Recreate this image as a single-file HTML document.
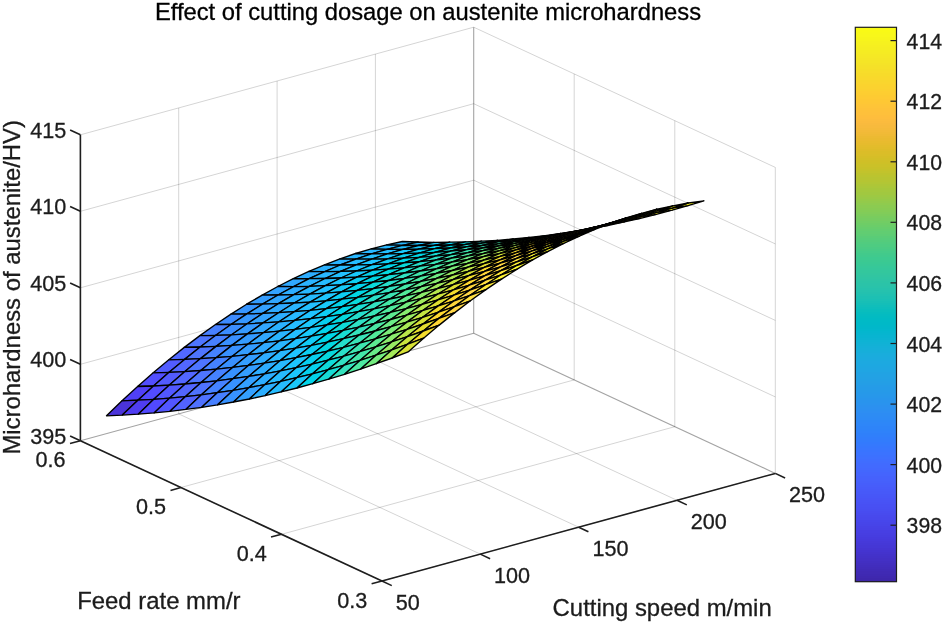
<!DOCTYPE html>
<html><head><meta charset="utf-8"><title>Effect of cutting dosage on austenite microhardness</title>
<style>html,body{margin:0;padding:0;background:#fff}svg{display:block}</style></head>
<body>
<svg width="943" height="624" viewBox="0 0 943 624" font-family="'Liberation Sans', Arial, Helvetica, sans-serif">
<rect width="943" height="624" fill="#fff"/>
<g stroke="#000" stroke-opacity="0.17" stroke-width="1">
<line x1="80.4" y1="440.8" x2="382" y2="581"/>
<line x1="80.4" y1="440.8" x2="80.4" y2="134.8"/>
<line x1="178.7" y1="413.9" x2="480.3" y2="554.1"/>
<line x1="178.7" y1="413.9" x2="178.7" y2="107.9"/>
<line x1="277.1" y1="387" x2="578.7" y2="527.2"/>
<line x1="277.1" y1="387" x2="277.1" y2="81"/>
<line x1="375.4" y1="360.1" x2="677" y2="500.3"/>
<line x1="375.4" y1="360.1" x2="375.4" y2="54.1"/>
<line x1="180.9" y1="487.5" x2="574.2" y2="379.9"/>
<line x1="574.2" y1="379.9" x2="574.2" y2="73.9"/>
<line x1="281.5" y1="534.3" x2="674.8" y2="426.7"/>
<line x1="674.8" y1="426.7" x2="674.8" y2="120.7"/>
<line x1="382" y1="581" x2="775.3" y2="473.4"/>
<line x1="775.3" y1="473.4" x2="775.3" y2="167.4"/>
<line x1="80.4" y1="364.3" x2="473.7" y2="256.7"/>
<line x1="473.7" y1="256.7" x2="775.3" y2="396.9"/>
<line x1="80.4" y1="287.8" x2="473.7" y2="180.2"/>
<line x1="473.7" y1="180.2" x2="775.3" y2="320.4"/>
<line x1="80.4" y1="211.3" x2="473.7" y2="103.7"/>
<line x1="473.7" y1="103.7" x2="775.3" y2="243.9"/>
<line x1="80.4" y1="134.8" x2="473.7" y2="27.2"/>
<line x1="473.7" y1="27.2" x2="775.3" y2="167.4"/>
</g>
<g stroke="#000" stroke-opacity="0.36" stroke-width="1.1">
<line x1="473.7" y1="333.2" x2="473.7" y2="27.2"/>
<line x1="80.4" y1="440.8" x2="473.7" y2="333.2"/>
<line x1="473.7" y1="333.2" x2="775.3" y2="473.4"/>
</g>
<g stroke="#000" stroke-width="1.35" stroke-linejoin="round">
<polygon points="386.7,244.8 402.3,241.5 418.2,242 402.6,245.3" fill="#29b7ff"/>
<polygon points="371.2,248.9 386.7,244.8 402.6,245.3 387,249.3" fill="#29b8ff"/>
<polygon points="355.6,253.5 371.2,248.9 387,249.3 371.5,253.9" fill="#29b7ff"/>
<polygon points="402.6,245.3 418.2,242 434.1,242.3 418.5,245.5" fill="#23c0ff"/>
<polygon points="340,258.8 355.6,253.5 371.5,253.9 355.9,259.1" fill="#29b7ff"/>
<polygon points="387,249.3 402.6,245.3 418.5,245.5 402.9,249.4" fill="#23c0ff"/>
<polygon points="324.5,264.8 340,258.8 355.9,259.1 340.3,265" fill="#2ab4ff"/>
<polygon points="371.5,253.9 387,249.3 402.9,249.4 387.4,253.9" fill="#23c0ff"/>
<polygon points="418.5,245.5 434.1,242.3 449.9,242.2 434.4,245.4" fill="#1bc8fb"/>
<polygon points="308.9,271.4 324.5,264.8 340.3,265 324.8,271.6" fill="#2bb1ff"/>
<polygon points="355.9,259.1 371.5,253.9 387.4,253.9 371.8,259.1" fill="#24bfff"/>
<polygon points="293.3,278.6 308.9,271.4 324.8,271.6 309.2,278.7" fill="#2dadff"/>
<polygon points="402.9,249.4 418.5,245.5 434.4,245.4 418.8,249.2" fill="#1bc8fb"/>
<polygon points="340.3,265 355.9,259.1 371.8,259.1 356.2,264.9" fill="#25bdff"/>
<polygon points="277.8,286.5 293.3,278.6 309.2,278.7 293.6,286.6" fill="#30a9ff"/>
<polygon points="387.4,253.9 402.9,249.4 418.8,249.2 403.2,253.7" fill="#1bc8fb"/>
<polygon points="434.4,245.4 449.9,242.2 465.8,241.8 450.2,245" fill="#0acff0"/>
<polygon points="262.2,295.1 277.8,286.5 293.6,286.6 278.1,295" fill="#33a3ff"/>
<polygon points="324.8,271.6 340.3,265 356.2,264.9 340.6,271.4" fill="#27bbff"/>
<polygon points="246.6,304.2 262.2,295.1 278.1,295 262.5,304.1" fill="#349dff"/>
<polygon points="371.8,259.1 387.4,253.9 403.2,253.7 387.7,258.8" fill="#1cc7fc"/>
<polygon points="309.2,278.7 324.8,271.6 340.6,271.4 325.1,278.5" fill="#29b7ff"/>
<polygon points="418.8,249.2 434.4,245.4 450.2,245 434.7,248.7" fill="#0acff0"/>
<polygon points="231,314.1 246.6,304.2 262.5,304.1 246.9,313.9" fill="#3695ff"/>
<polygon points="356.2,264.9 371.8,259.1 387.7,258.8 372.1,264.6" fill="#1ec6fe"/>
<polygon points="293.6,286.6 309.2,278.7 325.1,278.5 309.5,286.3" fill="#2bb3ff"/>
<polygon points="215.5,324.5 231,314.1 246.9,313.9 231.3,324.3" fill="#3d8bff"/>
<polygon points="403.2,253.7 418.8,249.2 434.7,248.7 419.1,253.1" fill="#0acff0"/>
<polygon points="199.9,335.6 215.5,324.5 231.3,324.3 215.8,335.3" fill="#4780ff"/>
<polygon points="450.2,245 465.8,241.8 481.7,241.2 466.1,244.3" fill="#01d5e3"/>
<polygon points="278.1,295 293.6,286.6 309.5,286.3 293.9,294.7" fill="#2dadff"/>
<polygon points="340.6,271.4 356.2,264.9 372.1,264.6 356.5,271" fill="#20c4ff"/>
<polygon points="184.3,347.4 199.9,335.6 215.8,335.3 200.2,347" fill="#4e75ff"/>
<polygon points="262.5,304.1 278.1,295 293.9,294.7 278.4,303.7" fill="#31a7ff"/>
<polygon points="387.7,258.8 403.2,253.7 419.1,253.1 403.5,258.2" fill="#0acff0"/>
<polygon points="168.8,359.8 184.3,347.4 200.2,347 184.6,359.4" fill="#5169ff"/>
<polygon points="325.1,278.5 340.6,271.4 356.5,271 340.9,278" fill="#23c0ff"/>
<polygon points="434.7,248.7 450.2,245 466.1,244.3 450.5,248" fill="#01d6e1"/>
<polygon points="153.2,372.8 168.8,359.8 184.6,359.4 169.1,372.3" fill="#525cff"/>
<polygon points="246.9,313.9 262.5,304.1 278.4,303.7 262.8,313.4" fill="#34a0ff"/>
<polygon points="137.6,386.5 153.2,372.8 169.1,372.3 153.5,386" fill="#524eff"/>
<polygon points="372.1,264.6 387.7,258.8 403.5,258.2 388,263.9" fill="#10cdf3"/>
<polygon points="309.5,286.3 325.1,278.5 340.9,278 325.4,285.7" fill="#26bcff"/>
<polygon points="122,400.8 137.6,386.5 153.5,386 137.9,400.2" fill="#5040f7"/>
<polygon points="231.3,324.3 246.9,313.9 262.8,313.4 247.2,323.8" fill="#3597ff"/>
<polygon points="106.5,415.8 122,400.8 137.9,400.2 122.3,415.1" fill="#4b34d9"/>
<polygon points="419.1,253.1 434.7,248.7 450.5,248 435,252.3" fill="#01d6e1"/>
<polygon points="215.8,335.3 231.3,324.3 247.2,323.8 231.6,334.8" fill="#3b8dff"/>
<polygon points="293.9,294.7 309.5,286.3 325.4,285.7 309.8,294.1" fill="#29b8ff"/>
<polygon points="466.1,244.3 481.7,241.2 497.6,240.3 482,243.2" fill="#17dbd4"/>
<polygon points="356.5,271 372.1,264.6 388,263.9 372.4,270.2" fill="#15cbf7"/>
<polygon points="200.2,347 215.8,335.3 231.6,334.8 216.1,346.4" fill="#4780ff"/>
<polygon points="278.4,303.7 293.9,294.7 309.8,294.1 294.2,303" fill="#2bb1ff"/>
<polygon points="403.5,258.2 419.1,253.1 435,252.3 419.4,257.3" fill="#01d5e3"/>
<polygon points="184.6,359.4 200.2,347 216.1,346.4 200.5,358.6" fill="#4e75ff"/>
<polygon points="340.9,278 356.5,271 372.4,270.2 356.8,277.2" fill="#19c9fa"/>
<polygon points="450.5,248 466.1,244.3 482,243.2 466.4,246.9" fill="#1adcd2"/>
<polygon points="169.1,372.3 184.6,359.4 200.5,358.6 184.9,371.6" fill="#5267ff"/>
<polygon points="262.8,313.4 278.4,303.7 294.2,303 278.7,312.7" fill="#2faaff"/>
<polygon points="153.5,386 169.1,372.3 184.9,371.6 169.4,385.1" fill="#535bff"/>
<polygon points="388,263.9 403.5,258.2 419.4,257.3 403.8,262.9" fill="#00d5e5"/>
<polygon points="325.4,285.7 340.9,278 356.8,277.2 341.2,284.9" fill="#1ec6fe"/>
<polygon points="137.9,400.2 153.5,386 169.4,385.1 153.8,399.3" fill="#524cff"/>
<polygon points="247.2,323.8 262.8,313.4 278.7,312.7 263.1,322.9" fill="#33a3ff"/>
<polygon points="122.3,415.1 137.9,400.2 153.8,399.3 138.2,414.2" fill="#4f3df2"/>
<polygon points="435,252.3 450.5,248 466.4,246.9 450.8,251.2" fill="#1adcd2"/>
<polygon points="231.6,334.8 247.2,323.8 263.1,322.9 247.5,333.9" fill="#359aff"/>
<polygon points="309.8,294.1 325.4,285.7 341.2,284.9 325.7,293.1" fill="#22c1ff"/>
<polygon points="482,243.2 497.6,240.3 513.4,239 497.9,241.9" fill="#2fe0c4"/>
<polygon points="372.4,270.2 388,263.9 403.8,262.9 388.3,269.2" fill="#01d3e9"/>
<polygon points="216.1,346.4 231.6,334.8 247.5,333.9 231.9,345.4" fill="#398fff"/>
<polygon points="294.2,303 309.8,294.1 325.7,293.1 310.1,302.1" fill="#26bcff"/>
<polygon points="419.4,257.3 435,252.3 450.8,251.2 435.3,256.1" fill="#17dbd4"/>
<polygon points="200.5,358.6 216.1,346.4 231.9,345.4 216.4,357.6" fill="#4582ff"/>
<polygon points="356.8,277.2 372.4,270.2 388.3,269.2 372.7,276.1" fill="#05d1ec"/>
<polygon points="466.4,246.9 482,243.2 497.9,241.9 482.3,245.5" fill="#31e1c2"/>
<polygon points="184.9,371.6 200.5,358.6 216.4,357.6 200.8,370.5" fill="#4e75ff"/>
<polygon points="278.7,312.7 294.2,303 310.1,302.1 294.5,311.6" fill="#2ab5ff"/>
<polygon points="169.4,385.1 184.9,371.6 200.8,370.5 185.2,384" fill="#5267ff"/>
<polygon points="403.8,262.9 419.4,257.3 435.3,256.1 419.7,261.7" fill="#13dad6"/>
<polygon points="341.2,284.9 356.8,277.2 372.7,276.1 357.1,283.7" fill="#0dcef2"/>
<polygon points="153.8,399.3 169.4,385.1 185.2,384 169.7,398.1" fill="#5258ff"/>
<polygon points="263.1,322.9 278.7,312.7 294.5,311.6 279,321.8" fill="#2caeff"/>
<polygon points="138.2,414.2 153.8,399.3 169.7,398.1 154.1,412.9" fill="#5149ff"/>
<polygon points="450.8,251.2 466.4,246.9 482.3,245.5 466.7,249.7" fill="#31e1c2"/>
<polygon points="247.5,333.9 263.1,322.9 279,321.8 263.4,332.7" fill="#32a6ff"/>
<polygon points="325.7,293.1 341.2,284.9 357.1,283.7 341.5,291.9" fill="#17caf8"/>
<polygon points="497.9,241.9 513.4,239 529.3,237.5 513.7,240.3" fill="#3ce5b2"/>
<polygon points="388.3,269.2 403.8,262.9 419.7,261.7 404.1,267.9" fill="#0bd9da"/>
<polygon points="231.9,345.4 247.5,333.9 263.4,332.7 247.8,344.2" fill="#349bff"/>
<polygon points="310.1,302.1 325.7,293.1 341.5,291.9 326,300.8" fill="#1ec6fe"/>
<polygon points="435.3,256.1 450.8,251.2 466.7,249.7 451.1,254.6" fill="#2fe0c4"/>
<polygon points="216.4,357.6 231.9,345.4 247.8,344.2 232.3,356.3" fill="#3890ff"/>
<polygon points="372.7,276.1 388.3,269.2 404.1,267.9 388.6,274.7" fill="#05d8de"/>
<polygon points="200.8,370.5 216.4,357.6 232.3,356.3 216.7,369.1" fill="#4582ff"/>
<polygon points="482.3,245.5 497.9,241.9 513.7,240.3 498.2,243.8" fill="#3ee6af"/>
<polygon points="294.5,311.6 310.1,302.1 326,300.8 310.4,310.3" fill="#23c0ff"/>
<polygon points="185.2,384 200.8,370.5 216.7,369.1 201.1,382.5" fill="#4e75ff"/>
<polygon points="419.7,261.7 435.3,256.1 451.1,254.6 435.6,260.1" fill="#2ddfc6"/>
<polygon points="357.1,283.7 372.7,276.1 388.6,274.7 373,282.2" fill="#01d5e3"/>
<polygon points="169.7,398.1 185.2,384 201.1,382.5 185.5,396.6" fill="#5266ff"/>
<polygon points="279,321.8 294.5,311.6 310.4,310.3 294.8,320.4" fill="#28b9ff"/>
<polygon points="154.1,412.9 169.7,398.1 185.5,396.6 170,411.3" fill="#5256ff"/>
<polygon points="466.7,249.7 482.3,245.5 498.2,243.8 482.6,248" fill="#3ee6af"/>
<polygon points="263.4,332.7 279,321.8 294.8,320.4 279.3,331.2" fill="#2bb1ff"/>
<polygon points="341.5,291.9 357.1,283.7 373,282.2 357.4,290.4" fill="#03d2eb"/>
<polygon points="513.7,240.3 529.3,237.5 545.2,235.6 529.6,238.4" fill="#52ea9a"/>
<polygon points="404.1,267.9 419.7,261.7 435.6,260.1 420,266.2" fill="#28deca"/>
<polygon points="247.8,344.2 263.4,332.7 279.3,331.2 263.7,342.6" fill="#31a7ff"/>
<polygon points="326,300.8 341.5,291.9 357.4,290.4 341.9,299.2" fill="#0dcef2"/>
<polygon points="451.1,254.6 466.7,249.7 482.6,248 467,252.8" fill="#3ee6af"/>
<polygon points="232.3,356.3 247.8,344.2 263.7,342.6 248.1,354.7" fill="#349dff"/>
<polygon points="388.6,274.7 404.1,267.9 420,266.2 404.4,273" fill="#21ddce"/>
<polygon points="216.7,369.1 232.3,356.3 248.1,354.7 232.6,367.4" fill="#3890ff"/>
<polygon points="498.2,243.8 513.7,240.3 529.6,238.4 514,241.9" fill="#52ea9a"/>
<polygon points="310.4,310.3 326,300.8 341.9,299.2 326.3,308.6" fill="#19c9fa"/>
<polygon points="201.1,382.5 216.7,369.1 232.6,367.4 217,380.8" fill="#4582ff"/>
<polygon points="435.6,260.1 451.1,254.6 467,252.8 451.5,258.2" fill="#3be4b4"/>
<polygon points="373,282.2 388.6,274.7 404.4,273 388.9,280.5" fill="#17dbd4"/>
<polygon points="185.5,396.6 201.1,382.5 217,380.8 201.4,394.8" fill="#4f73ff"/>
<polygon points="294.8,320.4 310.4,310.3 326.3,308.6 310.7,318.7" fill="#20c4ff"/>
<polygon points="170,411.3 185.5,396.6 201.4,394.8 185.8,409.4" fill="#5263ff"/>
<polygon points="482.6,248 498.2,243.8 514,241.9 498.5,246" fill="#56ea98"/>
<polygon points="279.3,331.2 294.8,320.4 310.7,318.7 295.1,329.4" fill="#26bcff"/>
<polygon points="357.4,290.4 373,282.2 388.9,280.5 373.3,288.6" fill="#0bd9da"/>
<polygon points="420,266.2 435.6,260.1 451.5,258.2 435.9,264.3" fill="#39e4b7"/>
<polygon points="529.6,238.4 545.2,235.6 561.1,233.5 545.5,236.2" fill="#6feb83"/>
<polygon points="263.7,342.6 279.3,331.2 295.1,329.4 279.6,340.8" fill="#2ab4ff"/>
<polygon points="341.9,299.2 357.4,290.4 373.3,288.6 357.7,297.3" fill="#01d5e3"/>
<polygon points="467,252.8 482.6,248 498.5,246 482.9,250.7" fill="#52ea9a"/>
<polygon points="248.1,354.7 263.7,342.6 279.6,340.8 264,352.8" fill="#30a9ff"/>
<polygon points="404.4,273 420,266.2 435.9,264.3 420.3,271" fill="#36e2bb"/>
<polygon points="232.6,367.4 248.1,354.7 264,352.8 248.4,365.4" fill="#349eff"/>
<polygon points="514,241.9 529.6,238.4 545.5,236.2 529.9,239.6" fill="#73eb7f"/>
<polygon points="326.3,308.6 341.9,299.2 357.7,297.3 342.2,306.7" fill="#03d2eb"/>
<polygon points="217,380.8 232.6,367.4 248.4,365.4 232.9,378.7" fill="#3792ff"/>
<polygon points="451.5,258.2 467,252.8 482.9,250.7 467.3,256.1" fill="#4fe99d"/>
<polygon points="388.9,280.5 404.4,273 420.3,271 404.7,278.4" fill="#31e1c2"/>
<polygon points="201.4,394.8 217,380.8 232.9,378.7 217.3,392.7" fill="#4582ff"/>
<polygon points="310.7,318.7 326.3,308.6 342.2,306.7 326.6,316.7" fill="#10cdf3"/>
<polygon points="185.8,409.4 201.4,394.8 217.3,392.7 201.7,407.3" fill="#4f71ff"/>
<polygon points="498.5,246 514,241.9 529.9,239.6 514.3,243.6" fill="#73eb7f"/>
<polygon points="295.1,329.4 310.7,318.7 326.6,316.7 311,327.3" fill="#1cc7fc"/>
<polygon points="373.3,288.6 388.9,280.5 404.7,278.4 389.2,286.4" fill="#28deca"/>
<polygon points="435.9,264.3 451.5,258.2 467.3,256.1 451.8,262.1" fill="#4ce9a0"/>
<polygon points="545.5,236.2 561.1,233.5 576.9,231 561.4,233.7" fill="#94ea66"/>
<polygon points="279.6,340.8 295.1,329.4 311,327.3 295.4,338.6" fill="#24bfff"/>
<polygon points="357.7,297.3 373.3,288.6 389.2,286.4 373.6,295.1" fill="#1adcd2"/>
<polygon points="482.9,250.7 498.5,246 514.3,243.6 498.8,248.3" fill="#73eb7f"/>
<polygon points="264,352.8 279.6,340.8 295.4,338.6 279.9,350.6" fill="#2ab5ff"/>
<polygon points="420.3,271 435.9,264.3 451.8,262.1 436.2,268.8" fill="#44e7a8"/>
<polygon points="248.4,365.4 264,352.8 279.9,350.6 264.3,363.2" fill="#2eacff"/>
<polygon points="529.9,239.6 545.5,236.2 561.4,233.7 545.8,237" fill="#98ea63"/>
<polygon points="342.2,306.7 357.7,297.3 373.6,295.1 358,304.4" fill="#0bd9da"/>
<polygon points="232.9,378.7 248.4,365.4 264.3,363.2 248.7,376.4" fill="#349eff"/>
<polygon points="467.3,256.1 482.9,250.7 498.8,248.3 483.2,253.6" fill="#6feb83"/>
<polygon points="404.7,278.4 420.3,271 436.2,268.8 420.6,276.1" fill="#40e6ad"/>
<polygon points="217.3,392.7 232.9,378.7 248.7,376.4 233.2,390.3" fill="#3792ff"/>
<polygon points="326.6,316.7 342.2,306.7 358,304.4 342.5,314.4" fill="#00d5e5"/>
<polygon points="201.7,407.3 217.3,392.7 233.2,390.3 217.6,404.8" fill="#4780ff"/>
<polygon points="514.3,243.6 529.9,239.6 545.8,237 530.2,241" fill="#9cea60"/>
<polygon points="311,327.3 326.6,316.7 342.5,314.4 326.9,324.9" fill="#07d0ee"/>
<polygon points="389.2,286.4 404.7,278.4 420.6,276.1 405,284" fill="#39e4b7"/>
<polygon points="451.8,262.1 467.3,256.1 483.2,253.6 467.6,259.6" fill="#6ceb86"/>
<polygon points="561.4,233.7 576.9,231 592.8,228.3 577.2,230.9" fill="#bde647"/>
<polygon points="295.4,338.6 311,327.3 326.9,324.9 311.3,336.2" fill="#19c9fa"/>
<polygon points="373.6,295.1 389.2,286.4 405,284 389.5,292.6" fill="#33e1bf"/>
<polygon points="498.8,248.3 514.3,243.6 530.2,241 514.6,245.6" fill="#98ea63"/>
<polygon points="279.9,350.6 295.4,338.6 311.3,336.2 295.7,348.1" fill="#22c1ff"/>
<polygon points="436.2,268.8 451.8,262.1 467.6,259.6 452.1,266.2" fill="#61eb8f"/>
<polygon points="264.3,363.2 279.9,350.6 295.7,348.1 280.2,360.6" fill="#29b8ff"/>
<polygon points="545.8,237 561.4,233.7 577.2,230.9 561.7,234.2" fill="#c1e544"/>
<polygon points="358,304.4 373.6,295.1 389.5,292.6 373.9,301.9" fill="#2adfc8"/>
<polygon points="248.7,376.4 264.3,363.2 280.2,360.6 264.6,373.8" fill="#2dadff"/>
<polygon points="483.2,253.6 498.8,248.3 514.6,245.6 499.1,250.8" fill="#94ea66"/>
<polygon points="420.6,276.1 436.2,268.8 452.1,266.2 436.5,273.4" fill="#59ea95"/>
<polygon points="233.2,390.3 248.7,376.4 264.6,373.8 249,387.6" fill="#34a0ff"/>
<polygon points="342.5,314.4 358,304.4 373.9,301.9 358.3,311.7" fill="#1adcd2"/>
<polygon points="217.6,404.8 233.2,390.3 249,387.6 233.5,402" fill="#3792ff"/>
<polygon points="530.2,241 545.8,237 561.7,234.2 546.1,238.1" fill="#c1e544"/>
<polygon points="326.9,324.9 342.5,314.4 358.3,311.7 342.8,322.3" fill="#05d8de"/>
<polygon points="405,284 420.6,276.1 436.5,273.4 420.9,281.3" fill="#4ce9a0"/>
<polygon points="467.6,259.6 483.2,253.6 499.1,250.8 483.5,256.7" fill="#90eb69"/>
<polygon points="577.2,230.9 592.8,228.3 608.7,225.3 593.1,227.8" fill="#dfe032"/>
<polygon points="311.3,336.2 326.9,324.9 342.8,322.3 327.2,333.4" fill="#03d2eb"/>
<polygon points="389.5,292.6 405,284 420.9,281.3 405.3,289.8" fill="#44e7a8"/>
<polygon points="295.7,348.1 311.3,336.2 327.2,333.4 311.6,345.3" fill="#12ccf5"/>
<polygon points="514.6,245.6 530.2,241 546.1,238.1 530.5,242.6" fill="#c1e544"/>
<polygon points="452.1,266.2 467.6,259.6 483.5,256.7 467.9,263.3" fill="#87eb6f"/>
<polygon points="280.2,360.6 295.7,348.1 311.6,345.3 296.1,357.7" fill="#20c4ff"/>
<polygon points="373.9,301.9 389.5,292.6 405.3,289.8 389.8,299" fill="#3be4b4"/>
<polygon points="561.7,234.2 577.2,230.9 593.1,227.8 577.5,231" fill="#e2df31"/>
<polygon points="264.6,373.8 280.2,360.6 296.1,357.7 280.5,370.8" fill="#28b9ff"/>
<polygon points="436.5,273.4 452.1,266.2 467.9,263.3 452.4,270.5" fill="#7beb79"/>
<polygon points="499.1,250.8 514.6,245.6 530.5,242.6 514.9,247.8" fill="#bde647"/>
<polygon points="249,387.6 264.6,373.8 280.5,370.8 264.9,384.6" fill="#2dadff"/>
<polygon points="358.3,311.7 373.9,301.9 389.8,299 374.2,308.8" fill="#33e1bf"/>
<polygon points="233.5,402 249,387.6 264.9,384.6 249.3,399" fill="#34a0ff"/>
<polygon points="546.1,238.1 561.7,234.2 577.5,231 562,234.8" fill="#e6de2f"/>
<polygon points="342.8,322.3 358.3,311.7 374.2,308.8 358.6,319.3" fill="#25ddcc"/>
<polygon points="420.9,281.3 436.5,273.4 452.4,270.5 436.8,278.3" fill="#6feb83"/>
<polygon points="483.5,256.7 499.1,250.8 514.9,247.8 499.4,253.6" fill="#b9e64a"/>
<polygon points="593.1,227.8 608.7,225.3 624.5,221.9 609,224.4" fill="#ffd92f"/>
<polygon points="327.2,333.4 342.8,322.3 358.6,319.3 343.1,330.4" fill="#0fdad8"/>
<polygon points="405.3,289.8 420.9,281.3 436.8,278.3 421.2,286.7" fill="#61eb8f"/>
<polygon points="311.6,345.3 327.2,333.4 343.1,330.4 327.5,342.2" fill="#00d5e5"/>
<polygon points="530.5,242.6 546.1,238.1 562,234.8 546.4,239.3" fill="#e6de2f"/>
<polygon points="467.9,263.3 483.5,256.7 499.4,253.6 483.8,260.1" fill="#b1e850"/>
<polygon points="296.1,357.7 311.6,345.3 327.5,342.2 311.9,354.5" fill="#0dcef2"/>
<polygon points="389.8,299 405.3,289.8 421.2,286.7 405.7,295.9" fill="#52ea9a"/>
<polygon points="577.5,231 593.1,227.8 609,224.4 593.4,227.5" fill="#ffd830"/>
<polygon points="280.5,370.8 296.1,357.7 311.9,354.5 296.4,367.6" fill="#1ec6fe"/>
<polygon points="452.4,270.5 467.9,263.3 483.8,260.1 468.2,267.2" fill="#a4e959"/>
<polygon points="514.9,247.8 530.5,242.6 546.4,239.3 530.8,244.4" fill="#e2df31"/>
<polygon points="264.9,384.6 280.5,370.8 296.4,367.6 280.8,381.3" fill="#27bbff"/>
<polygon points="374.2,308.8 389.8,299 405.7,295.9 390.1,305.6" fill="#44e7a8"/>
<polygon points="249.3,399 264.9,384.6 280.8,381.3 265.2,395.6" fill="#2caeff"/>
<polygon points="562,234.8 577.5,231 593.4,227.5 577.8,231.3" fill="#ffd832"/>
<polygon points="358.6,319.3 374.2,308.8 390.1,305.6 374.5,316" fill="#39e4b7"/>
<polygon points="436.8,278.3 452.4,270.5 468.2,267.2 452.7,275" fill="#98ea63"/>
<polygon points="499.4,253.6 514.9,247.8 530.8,244.4 515.3,250.2" fill="#dbe034"/>
<polygon points="609,224.4 624.5,221.9 640.4,218.3 624.9,220.7" fill="#ffd644"/>
<polygon points="343.1,330.4 358.6,319.3 374.5,316 358.9,327.1" fill="#2fe0c4"/>
<polygon points="421.2,286.7 436.8,278.3 452.7,275 437.1,283.4" fill="#87eb6f"/>
<polygon points="327.5,342.2 343.1,330.4 358.9,327.1 343.4,338.7" fill="#1adcd2"/>
<polygon points="546.4,239.3 562,234.8 577.8,231.3 562.3,235.7" fill="#ffd832"/>
<polygon points="483.8,260.1 499.4,253.6 515.3,250.2 499.7,256.6" fill="#d4e238"/>
<polygon points="311.9,354.5 327.5,342.2 343.4,338.7 327.8,351.1" fill="#03d7e0"/>
<polygon points="405.7,295.9 421.2,286.7 437.1,283.4 421.5,292.4" fill="#77ec7c"/>
<polygon points="593.4,227.5 609,224.4 624.9,220.7 609.3,223.8" fill="#ffd646"/>
<polygon points="296.4,367.6 311.9,354.5 327.8,351.1 312.2,364.1" fill="#07d0ee"/>
<polygon points="468.2,267.2 483.8,260.1 499.7,256.6 484.1,263.7" fill="#cce33d"/>
<polygon points="530.8,244.4 546.4,239.3 562.3,235.7 546.7,240.8" fill="#ffd830"/>
<polygon points="280.8,381.3 296.4,367.6 312.2,364.1 296.7,377.7" fill="#1cc7fc"/>
<polygon points="390.1,305.6 405.7,295.9 421.5,292.4 406,302.1" fill="#64eb8c"/>
<polygon points="265.2,395.6 280.8,381.3 296.7,377.7 281.1,391.9" fill="#26bcff"/>
<polygon points="577.8,231.3 593.4,227.5 609.3,223.8 593.7,227.5" fill="#ffd647"/>
<polygon points="374.5,316 390.1,305.6 406,302.1 390.4,312.4" fill="#4fe99d"/>
<polygon points="452.7,275 468.2,267.2 484.1,263.7 468.5,271.3" fill="#c1e544"/>
<polygon points="515.3,250.2 530.8,244.4 546.7,240.8 531.1,246.5" fill="#ffd92f"/>
<polygon points="624.9,220.7 640.4,218.3 656.3,214.4 640.7,216.7" fill="#ffe33f"/>
<polygon points="358.9,327.1 374.5,316 390.4,312.4 374.8,323.4" fill="#40e6ad"/>
<polygon points="437.1,283.4 452.7,275 468.5,271.3 453,279.7" fill="#b1e850"/>
<polygon points="343.4,338.7 358.9,327.1 374.8,323.4 359.2,335" fill="#35e2bd"/>
<polygon points="562.3,235.7 577.8,231.3 593.7,227.5 578.1,231.8" fill="#ffd647"/>
<polygon points="499.7,256.6 515.3,250.2 531.1,246.5 515.6,252.8" fill="#f9da2e"/>
<polygon points="327.8,351.1 343.4,338.7 359.2,335 343.7,347.3" fill="#25ddcc"/>
<polygon points="421.5,292.4 437.1,283.4 453,279.7 437.4,288.7" fill="#a0e95d"/>
<polygon points="609.3,223.8 624.9,220.7 640.7,216.7 625.2,219.7" fill="#ffe53d"/>
<polygon points="312.2,364.1 327.8,351.1 343.7,347.3 328.1,360.2" fill="#07d8dc"/>
<polygon points="484.1,263.7 499.7,256.6 515.6,252.8 500,259.8" fill="#f0dc2d"/>
<polygon points="546.7,240.8 562.3,235.7 578.1,231.8 562.6,236.8" fill="#ffd646"/>
<polygon points="296.7,377.7 312.2,364.1 328.1,360.2 312.5,373.8" fill="#05d1ec"/>
<polygon points="406,302.1 421.5,292.4 437.4,288.7 421.8,298.3" fill="#8beb6c"/>
<polygon points="281.1,391.9 296.7,377.7 312.5,373.8 297,388" fill="#1bc8fb"/>
<polygon points="390.4,312.4 406,302.1 421.8,298.3 406.3,308.6" fill="#73eb7f"/>
<polygon points="593.7,227.5 609.3,223.8 625.2,219.7 609.6,223.4" fill="#ffe53d"/>
<polygon points="468.5,271.3 484.1,263.7 500,259.8 484.4,267.4" fill="#e6de2f"/>
<polygon points="531.1,246.5 546.7,240.8 562.6,236.8 547,242.5" fill="#ffd644"/>
<polygon points="640.7,216.7 656.3,214.4 672.2,210.2 656.6,212.4" fill="#fff534"/>
<polygon points="374.8,323.4 390.4,312.4 406.3,308.6 390.7,319.5" fill="#5dea92"/>
<polygon points="453,279.7 468.5,271.3 484.4,267.4 468.8,275.7" fill="#d7e136"/>
<polygon points="359.2,335 374.8,323.4 390.7,319.5 375.1,331" fill="#49e8a3"/>
<polygon points="578.1,231.8 593.7,227.5 609.6,223.4 594,227.6" fill="#ffe53d"/>
<polygon points="515.6,252.8 531.1,246.5 547,242.5 531.4,248.7" fill="#ffd63f"/>
<polygon points="343.7,347.3 359.2,335 375.1,331 359.5,343.2" fill="#39e4b7"/>
<polygon points="437.4,288.7 453,279.7 468.8,275.7 453.3,284.6" fill="#c8e43f"/>
<polygon points="625.2,219.7 640.7,216.7 656.6,212.4 641,215.4" fill="#fff833"/>
<polygon points="328.1,360.2 343.7,347.3 359.5,343.2 344,356.1" fill="#2adfc8"/>
<polygon points="500,259.8 515.6,252.8 531.4,248.7 515.9,255.7" fill="#ffd63a"/>
<polygon points="562.6,236.8 578.1,231.8 594,227.6 578.4,232.6" fill="#ffe53d"/>
<polygon points="312.5,373.8 328.1,360.2 344,356.1 328.4,369.6" fill="#0fdad8"/>
<polygon points="421.8,298.3 437.4,288.7 453.3,284.6 437.7,294.2" fill="#b5e74d"/>
<polygon points="297,388 312.5,373.8 328.4,369.6 312.8,383.7" fill="#01d3e9"/>
<polygon points="406.3,308.6 421.8,298.3 437.7,294.2 422.1,304.4" fill="#a0e95d"/>
<polygon points="609.6,223.4 625.2,219.7 641,215.4 625.5,218.9" fill="#fff833"/>
<polygon points="484.4,267.4 500,259.8 515.9,255.7 500.3,263.2" fill="#ffd733"/>
<polygon points="547,242.5 562.6,236.8 578.4,232.6 562.9,238.1" fill="#ffe33f"/>
<polygon points="656.6,212.4 672.2,210.2 688,205.6 672.5,207.8" fill="#ffff2b"/>
<polygon points="390.7,319.5 406.3,308.6 422.1,304.4 406.6,315.2" fill="#87eb6f"/>
<polygon points="468.8,275.7 484.4,267.4 500.3,263.2 484.7,271.4" fill="#fcd92f"/>
<polygon points="375.1,331 390.7,319.5 406.6,315.2 391,326.7" fill="#6ceb86"/>
<polygon points="594,227.6 609.6,223.4 625.5,218.9 609.9,223.2" fill="#fff833"/>
<polygon points="531.4,248.7 547,242.5 562.9,238.1 547.3,244.4" fill="#ffe041"/>
<polygon points="359.5,343.2 375.1,331 391,326.7 375.4,338.9" fill="#52ea9a"/>
<polygon points="453.3,284.6 468.8,275.7 484.7,271.4 469.1,280.3" fill="#f0dc2d"/>
<polygon points="641,215.4 656.6,212.4 672.5,207.8 656.9,210.7" fill="#ffff2a"/>
<polygon points="344,356.1 359.5,343.2 375.4,338.9 359.8,351.7" fill="#3ee6af"/>
<polygon points="515.9,255.7 531.4,248.7 547.3,244.4 531.7,251.2" fill="#ffdb45"/>
<polygon points="578.4,232.6 594,227.6 609.9,223.2 594.3,228" fill="#fff833"/>
<polygon points="328.4,369.6 344,356.1 359.8,351.7 344.3,365.1" fill="#31e1c2"/>
<polygon points="437.7,294.2 453.3,284.6 469.1,280.3 453.6,289.8" fill="#dfe032"/>
<polygon points="312.8,383.7 328.4,369.6 344.3,365.1 328.7,379.2" fill="#17dbd4"/>
<polygon points="422.1,304.4 437.7,294.2 453.6,289.8 438,299.9" fill="#cce33d"/>
<polygon points="625.5,218.9 641,215.4 656.9,210.7 641.3,214.2" fill="#ffff2a"/>
<polygon points="500.3,263.2 515.9,255.7 531.7,251.2 516.2,258.7" fill="#ffd847"/>
<polygon points="562.9,238.1 578.4,232.6 594.3,228 578.7,233.5" fill="#fff634"/>
<polygon points="672.5,207.8 688,205.6 703.9,200.8 688.3,203" fill="#ffff1c"/>
<polygon points="406.6,315.2 422.1,304.4 438,299.9 422.4,310.7" fill="#b5e74d"/>
<polygon points="484.7,271.4 500.3,263.2 516.2,258.7 500.6,266.9" fill="#ffd644"/>
<polygon points="391,326.7 406.6,315.2 422.4,310.7 406.9,322.1" fill="#98ea63"/>
<polygon points="609.9,223.2 625.5,218.9 641.3,214.2 625.8,218.4" fill="#ffff2a"/>
<polygon points="547.3,244.4 562.9,238.1 578.7,233.5 563.2,239.7" fill="#fff335"/>
<polygon points="375.4,338.9 391,326.7 406.9,322.1 391.3,334.2" fill="#7beb79"/>
<polygon points="469.1,280.3 484.7,271.4 500.6,266.9 485,275.6" fill="#ffd63a"/>
<polygon points="656.9,210.7 672.5,207.8 688.3,203 672.8,205.8" fill="#ffff1a"/>
<polygon points="359.8,351.7 375.4,338.9 391.3,334.2 375.7,346.9" fill="#5dea92"/>
<polygon points="531.7,251.2 547.3,244.4 563.2,239.7 547.6,246.5" fill="#ffef37"/>
<polygon points="594.3,228 609.9,223.2 625.8,218.4 610.2,223.2" fill="#ffff2a"/>
<polygon points="344.3,365.1 359.8,351.7 375.7,346.9 360.2,360.3" fill="#44e7a8"/>
<polygon points="453.6,289.8 469.1,280.3 485,275.6 469.4,285.1" fill="#ffd830"/>
<polygon points="328.7,379.2 344.3,365.1 360.2,360.3 344.6,374.3" fill="#35e2bd"/>
<polygon points="438,299.9 453.6,289.8 469.4,285.1 453.9,295.2" fill="#f3db2d"/>
<polygon points="641.3,214.2 656.9,210.7 672.8,205.8 657.2,209.2" fill="#ffff18"/>
<polygon points="516.2,258.7 531.7,251.2 547.6,246.5 532,253.9" fill="#ffea3a"/>
<polygon points="578.7,233.5 594.3,228 610.2,223.2 594.6,228.6" fill="#ffff2b"/>
<polygon points="422.4,310.7 438,299.9 453.9,295.2 438.3,305.9" fill="#dfe032"/>
<polygon points="500.6,266.9 516.2,258.7 532,253.9 516.5,262" fill="#ffe33f"/>
<polygon points="406.9,322.1 422.4,310.7 438.3,305.9 422.7,317.3" fill="#c5e542"/>
<polygon points="625.8,218.4 641.3,214.2 657.2,209.2 641.6,213.3" fill="#ffff18"/>
<polygon points="563.2,239.7 578.7,233.5 594.6,228.6 579,234.7" fill="#ffff2c"/>
<polygon points="391.3,334.2 406.9,322.1 422.7,317.3 407.2,329.3" fill="#a9e956"/>
<polygon points="485,275.6 500.6,266.9 516.5,262 500.9,270.7" fill="#ffdc44"/>
<polygon points="375.7,346.9 391.3,334.2 407.2,329.3 391.6,341.9" fill="#8beb6c"/>
<polygon points="547.6,246.5 563.2,239.7 579,234.7 563.5,241.4" fill="#ffff2e"/>
<polygon points="360.2,360.3 375.7,346.9 391.6,341.9 376,355.2" fill="#68eb89"/>
<polygon points="610.2,223.2 625.8,218.4 641.6,213.3 626.1,218" fill="#ffff1a"/>
<polygon points="469.4,285.1 485,275.6 500.9,270.7 485.3,280.1" fill="#ffd647"/>
<polygon points="344.6,374.3 360.2,360.3 376,355.2 360.5,369.2" fill="#4ce9a0"/>
<polygon points="453.9,295.2 469.4,285.1 485.3,280.1 469.8,290.1" fill="#ffd63c"/>
<polygon points="532,253.9 547.6,246.5 563.5,241.4 547.9,248.8" fill="#fffe30"/>
<polygon points="594.6,228.6 610.2,223.2 626.1,218 610.5,223.4" fill="#ffff1c"/>
<polygon points="438.3,305.9 453.9,295.2 469.8,290.1 454.2,300.8" fill="#ffd830"/>
<polygon points="516.5,262 532,253.9 547.9,248.8 532.3,256.8" fill="#fff833"/>
<polygon points="422.7,317.3 438.3,305.9 454.2,300.8 438.6,312.1" fill="#f0dc2d"/>
<polygon points="579,234.7 594.6,228.6 610.5,223.4 594.9,229.4" fill="#ffff1d"/>
<polygon points="407.2,329.3 422.7,317.3 438.6,312.1 423,324" fill="#d7e136"/>
<polygon points="500.9,270.7 516.5,262 532.3,256.8 516.8,265.5" fill="#fff136"/>
<polygon points="391.6,341.9 407.2,329.3 423,324 407.5,336.6" fill="#b9e64a"/>
<polygon points="563.5,241.4 579,234.7 594.9,229.4 579.4,236.1" fill="#ffff21"/>
<polygon points="376,355.2 391.6,341.9 407.5,336.6 391.9,349.8" fill="#98ea63"/>
<polygon points="485.3,280.1 500.9,270.7 516.8,265.5 501.2,274.8" fill="#ffe83b"/>
<polygon points="360.5,369.2 376,355.2 391.9,349.8 376.3,363.7" fill="#73eb7f"/>
<polygon points="469.8,290.1 485.3,280.1 501.2,274.8 485.6,284.7" fill="#ffe041"/>
<polygon points="547.9,248.8 563.5,241.4 579.4,236.1 563.8,243.4" fill="#ffff25"/>
<polygon points="454.2,300.8 469.8,290.1 485.6,284.7 470.1,295.3" fill="#ffd748"/>
<polygon points="532.3,256.8 547.9,248.8 563.8,243.4 548.2,251.3" fill="#ffff2a"/>
<polygon points="438.6,312.1 454.2,300.8 470.1,295.3 454.5,306.6" fill="#ffd63c"/>
<polygon points="423,324 438.6,312.1 454.5,306.6 438.9,318.4" fill="#ffd92f"/>
<polygon points="516.8,265.5 532.3,256.8 548.2,251.3 532.6,259.9" fill="#ffff2d"/>
<polygon points="407.5,336.6 423,324 438.9,318.4 423.3,331" fill="#e6de2f"/>
<polygon points="391.9,349.8 407.5,336.6 423.3,331 407.8,344.1" fill="#c8e43f"/>
<polygon points="501.2,274.8 516.8,265.5 532.6,259.9 517.1,269.2" fill="#fffe30"/>
<polygon points="376.3,363.7 391.9,349.8 407.8,344.1 392.2,358" fill="#a4e959"/>
<polygon points="485.6,284.7 501.2,274.8 517.1,269.2 501.5,279.1" fill="#fff534"/>
<polygon points="470.1,295.3 485.6,284.7 501.5,279.1 485.9,289.6" fill="#ffea3a"/>
<polygon points="454.5,306.6 470.1,295.3 485.9,289.6 470.4,300.8" fill="#ffe041"/>
<polygon points="438.9,318.4 454.5,306.6 470.4,300.8 454.8,312.6" fill="#ffd647"/>
<polygon points="423.3,331 438.9,318.4 454.8,312.6 439.2,325.1" fill="#ffd735"/>
<polygon points="407.8,344.1 423.3,331 439.2,325.1 423.6,338.2" fill="#f3db2d"/>
<polygon points="392.2,358 407.8,344.1 423.6,338.2 408.1,351.9" fill="#d7e136"/>
</g>
<line x1="80.4" y1="440.8" x2="80.4" y2="134.8" stroke="#1e1e1e" stroke-width="1.6"/>
<line x1="80.4" y1="440.8" x2="382" y2="581" stroke="#1e1e1e" stroke-width="1.6"/>
<line x1="382" y1="581" x2="775.3" y2="473.4" stroke="#1e1e1e" stroke-width="1.6"/>
<line x1="80.4" y1="440.8" x2="70.1" y2="436" stroke="#1e1e1e" stroke-width="1.6"/>
<line x1="80.4" y1="364.3" x2="70.1" y2="359.5" stroke="#1e1e1e" stroke-width="1.6"/>
<line x1="80.4" y1="287.8" x2="70.1" y2="283" stroke="#1e1e1e" stroke-width="1.6"/>
<line x1="80.4" y1="211.3" x2="70.1" y2="206.5" stroke="#1e1e1e" stroke-width="1.6"/>
<line x1="80.4" y1="134.8" x2="70.1" y2="130" stroke="#1e1e1e" stroke-width="1.6"/>
<line x1="80.4" y1="440.8" x2="70" y2="443.6" stroke="#1e1e1e" stroke-width="1.6"/>
<line x1="180.9" y1="487.5" x2="170.5" y2="490.4" stroke="#1e1e1e" stroke-width="1.6"/>
<line x1="281.5" y1="534.3" x2="271" y2="537.1" stroke="#1e1e1e" stroke-width="1.6"/>
<line x1="382" y1="581" x2="371.6" y2="583.8" stroke="#1e1e1e" stroke-width="1.6"/>
<line x1="382" y1="581" x2="391.8" y2="585.6" stroke="#1e1e1e" stroke-width="1.6"/>
<line x1="480.3" y1="554.1" x2="490.1" y2="558.7" stroke="#1e1e1e" stroke-width="1.6"/>
<line x1="578.7" y1="527.2" x2="588.4" y2="531.8" stroke="#1e1e1e" stroke-width="1.6"/>
<line x1="677" y1="500.3" x2="686.8" y2="504.9" stroke="#1e1e1e" stroke-width="1.6"/>
<line x1="775.3" y1="473.4" x2="785.1" y2="478" stroke="#1e1e1e" stroke-width="1.6"/>
<g font-size="21.6" fill="#1c1c1c" stroke="#1c1c1c" stroke-width="0.3">
<text x="66.2" y="443.5" text-anchor="end">395</text>
<text x="66.2" y="367" text-anchor="end">400</text>
<text x="66.2" y="290.5" text-anchor="end">405</text>
<text x="66.2" y="214" text-anchor="end">410</text>
<text x="66.2" y="137.5" text-anchor="end">415</text>
<text x="65.6" y="467.3" text-anchor="end">0.6</text>
<text x="166.1" y="514" text-anchor="end">0.5</text>
<text x="266.7" y="560.8" text-anchor="end">0.4</text>
<text x="367.2" y="607.5" text-anchor="end">0.3</text>
<text x="395.8" y="609.6">50</text>
<text x="494.1" y="582.7">100</text>
<text x="592.5" y="555.8">150</text>
<text x="690.8" y="528.9">200</text>
<text x="789.1" y="502">250</text>
</g>
<g font-size="23.9" fill="#1c1c1c" stroke="#1c1c1c" stroke-width="0.3">
<text x="77.2" y="608.5">Feed rate mm/r</text>
<text x="552.6" y="615.5">Cutting speed m/min</text>
<text transform="translate(20.4,287.3) rotate(-90)" text-anchor="middle">Microhardness of austenite/HV)</text>
</g>
<text x="428" y="19.7" font-size="23.75" fill="#000" stroke="#000" stroke-width="0.3" text-anchor="middle">Effect of cutting dosage on austenite microhardness</text>
<g shape-rendering="crispEdges">
<rect x="855.3" y="579.53" width="41.2" height="2.77" fill="#3e26a8"/>
<rect x="855.3" y="577.37" width="41.2" height="2.77" fill="#3e27ac"/>
<rect x="855.3" y="575.20" width="41.2" height="2.77" fill="#3f28af"/>
<rect x="855.3" y="573.04" width="41.2" height="2.77" fill="#3f29b2"/>
<rect x="855.3" y="570.87" width="41.2" height="2.77" fill="#402ab4"/>
<rect x="855.3" y="568.71" width="41.2" height="2.77" fill="#402bb7"/>
<rect x="855.3" y="566.54" width="41.2" height="2.77" fill="#412cba"/>
<rect x="855.3" y="564.38" width="41.2" height="2.77" fill="#412dbd"/>
<rect x="855.3" y="562.21" width="41.2" height="2.77" fill="#422ebf"/>
<rect x="855.3" y="560.04" width="41.2" height="2.77" fill="#422fc2"/>
<rect x="855.3" y="557.88" width="41.2" height="2.77" fill="#4330c5"/>
<rect x="855.3" y="555.71" width="41.2" height="2.77" fill="#4331c8"/>
<rect x="855.3" y="553.55" width="41.2" height="2.77" fill="#4332ca"/>
<rect x="855.3" y="551.38" width="41.2" height="2.77" fill="#4433cd"/>
<rect x="855.3" y="549.22" width="41.2" height="2.77" fill="#4434d0"/>
<rect x="855.3" y="547.05" width="41.2" height="2.77" fill="#4535d2"/>
<rect x="855.3" y="544.88" width="41.2" height="2.77" fill="#4537d5"/>
<rect x="855.3" y="542.72" width="41.2" height="2.77" fill="#4538d7"/>
<rect x="855.3" y="540.55" width="41.2" height="2.77" fill="#4639d9"/>
<rect x="855.3" y="538.39" width="41.2" height="2.77" fill="#463adc"/>
<rect x="855.3" y="536.22" width="41.2" height="2.77" fill="#463bde"/>
<rect x="855.3" y="534.06" width="41.2" height="2.77" fill="#463de0"/>
<rect x="855.3" y="531.89" width="41.2" height="2.77" fill="#473ee1"/>
<rect x="855.3" y="529.73" width="41.2" height="2.77" fill="#473fe3"/>
<rect x="855.3" y="527.56" width="41.2" height="2.77" fill="#4741e5"/>
<rect x="855.3" y="525.39" width="41.2" height="2.77" fill="#4742e6"/>
<rect x="855.3" y="523.23" width="41.2" height="2.77" fill="#4744e8"/>
<rect x="855.3" y="521.06" width="41.2" height="2.77" fill="#4745e9"/>
<rect x="855.3" y="518.90" width="41.2" height="2.77" fill="#4746eb"/>
<rect x="855.3" y="516.73" width="41.2" height="2.77" fill="#4848ec"/>
<rect x="855.3" y="514.57" width="41.2" height="2.77" fill="#4849ed"/>
<rect x="855.3" y="512.40" width="41.2" height="2.77" fill="#484bee"/>
<rect x="855.3" y="510.23" width="41.2" height="2.77" fill="#484cf0"/>
<rect x="855.3" y="508.07" width="41.2" height="2.77" fill="#484ef1"/>
<rect x="855.3" y="505.90" width="41.2" height="2.77" fill="#484ff2"/>
<rect x="855.3" y="503.74" width="41.2" height="2.77" fill="#4850f3"/>
<rect x="855.3" y="501.57" width="41.2" height="2.77" fill="#4852f4"/>
<rect x="855.3" y="499.41" width="41.2" height="2.77" fill="#4853f5"/>
<rect x="855.3" y="497.24" width="41.2" height="2.77" fill="#4854f6"/>
<rect x="855.3" y="495.08" width="41.2" height="2.77" fill="#4756f7"/>
<rect x="855.3" y="492.91" width="41.2" height="2.77" fill="#4757f7"/>
<rect x="855.3" y="490.74" width="41.2" height="2.77" fill="#4759f8"/>
<rect x="855.3" y="488.58" width="41.2" height="2.77" fill="#475af9"/>
<rect x="855.3" y="486.41" width="41.2" height="2.77" fill="#475bfa"/>
<rect x="855.3" y="484.25" width="41.2" height="2.77" fill="#475dfa"/>
<rect x="855.3" y="482.08" width="41.2" height="2.77" fill="#465efb"/>
<rect x="855.3" y="479.92" width="41.2" height="2.77" fill="#4660fb"/>
<rect x="855.3" y="477.75" width="41.2" height="2.77" fill="#4661fc"/>
<rect x="855.3" y="475.58" width="41.2" height="2.77" fill="#4562fc"/>
<rect x="855.3" y="473.42" width="41.2" height="2.77" fill="#4564fd"/>
<rect x="855.3" y="471.25" width="41.2" height="2.77" fill="#4465fd"/>
<rect x="855.3" y="469.09" width="41.2" height="2.77" fill="#4367fd"/>
<rect x="855.3" y="466.92" width="41.2" height="2.77" fill="#4368fe"/>
<rect x="855.3" y="464.76" width="41.2" height="2.77" fill="#426afe"/>
<rect x="855.3" y="462.59" width="41.2" height="2.77" fill="#416bfe"/>
<rect x="855.3" y="460.43" width="41.2" height="2.77" fill="#406dfe"/>
<rect x="855.3" y="458.26" width="41.2" height="2.77" fill="#3f6eff"/>
<rect x="855.3" y="456.09" width="41.2" height="2.77" fill="#3e70ff"/>
<rect x="855.3" y="453.93" width="41.2" height="2.77" fill="#3c71ff"/>
<rect x="855.3" y="451.76" width="41.2" height="2.77" fill="#3b73ff"/>
<rect x="855.3" y="449.60" width="41.2" height="2.77" fill="#3974ff"/>
<rect x="855.3" y="447.43" width="41.2" height="2.77" fill="#3876fe"/>
<rect x="855.3" y="445.27" width="41.2" height="2.77" fill="#3677fe"/>
<rect x="855.3" y="443.10" width="41.2" height="2.77" fill="#3579fd"/>
<rect x="855.3" y="440.93" width="41.2" height="2.77" fill="#337afd"/>
<rect x="855.3" y="438.77" width="41.2" height="2.77" fill="#327cfc"/>
<rect x="855.3" y="436.60" width="41.2" height="2.77" fill="#317dfc"/>
<rect x="855.3" y="434.44" width="41.2" height="2.77" fill="#307ffb"/>
<rect x="855.3" y="432.27" width="41.2" height="2.77" fill="#2f80fa"/>
<rect x="855.3" y="430.11" width="41.2" height="2.77" fill="#2f82fa"/>
<rect x="855.3" y="427.94" width="41.2" height="2.77" fill="#2e83f9"/>
<rect x="855.3" y="425.78" width="41.2" height="2.77" fill="#2e84f8"/>
<rect x="855.3" y="423.61" width="41.2" height="2.77" fill="#2e86f8"/>
<rect x="855.3" y="421.44" width="41.2" height="2.77" fill="#2e87f7"/>
<rect x="855.3" y="419.28" width="41.2" height="2.77" fill="#2d88f6"/>
<rect x="855.3" y="417.11" width="41.2" height="2.77" fill="#2d8af5"/>
<rect x="855.3" y="414.95" width="41.2" height="2.77" fill="#2d8bf4"/>
<rect x="855.3" y="412.78" width="41.2" height="2.77" fill="#2d8cf3"/>
<rect x="855.3" y="410.62" width="41.2" height="2.77" fill="#2d8ef2"/>
<rect x="855.3" y="408.45" width="41.2" height="2.77" fill="#2c8ff1"/>
<rect x="855.3" y="406.28" width="41.2" height="2.77" fill="#2c90f0"/>
<rect x="855.3" y="404.12" width="41.2" height="2.77" fill="#2b91ef"/>
<rect x="855.3" y="401.95" width="41.2" height="2.77" fill="#2a93ee"/>
<rect x="855.3" y="399.79" width="41.2" height="2.77" fill="#2994ed"/>
<rect x="855.3" y="397.62" width="41.2" height="2.77" fill="#2895ec"/>
<rect x="855.3" y="395.46" width="41.2" height="2.77" fill="#2797eb"/>
<rect x="855.3" y="393.29" width="41.2" height="2.77" fill="#2798ea"/>
<rect x="855.3" y="391.12" width="41.2" height="2.77" fill="#2699e9"/>
<rect x="855.3" y="388.96" width="41.2" height="2.77" fill="#269ae8"/>
<rect x="855.3" y="386.79" width="41.2" height="2.77" fill="#259be8"/>
<rect x="855.3" y="384.63" width="41.2" height="2.77" fill="#259ce7"/>
<rect x="855.3" y="382.46" width="41.2" height="2.77" fill="#249ee6"/>
<rect x="855.3" y="380.30" width="41.2" height="2.77" fill="#249fe5"/>
<rect x="855.3" y="378.13" width="41.2" height="2.77" fill="#23a0e5"/>
<rect x="855.3" y="375.97" width="41.2" height="2.77" fill="#23a1e4"/>
<rect x="855.3" y="373.80" width="41.2" height="2.77" fill="#22a2e4"/>
<rect x="855.3" y="371.63" width="41.2" height="2.77" fill="#21a3e3"/>
<rect x="855.3" y="369.47" width="41.2" height="2.77" fill="#20a5e3"/>
<rect x="855.3" y="367.30" width="41.2" height="2.77" fill="#1fa6e2"/>
<rect x="855.3" y="365.14" width="41.2" height="2.77" fill="#1ea7e1"/>
<rect x="855.3" y="362.97" width="41.2" height="2.77" fill="#1da8e1"/>
<rect x="855.3" y="360.81" width="41.2" height="2.77" fill="#1da9e0"/>
<rect x="855.3" y="358.64" width="41.2" height="2.77" fill="#1caadf"/>
<rect x="855.3" y="356.48" width="41.2" height="2.77" fill="#1babde"/>
<rect x="855.3" y="354.31" width="41.2" height="2.77" fill="#1aacdd"/>
<rect x="855.3" y="352.14" width="41.2" height="2.77" fill="#19addc"/>
<rect x="855.3" y="349.98" width="41.2" height="2.77" fill="#17aeda"/>
<rect x="855.3" y="347.81" width="41.2" height="2.77" fill="#16afd9"/>
<rect x="855.3" y="345.65" width="41.2" height="2.77" fill="#14b0d8"/>
<rect x="855.3" y="343.48" width="41.2" height="2.77" fill="#12b1d6"/>
<rect x="855.3" y="341.32" width="41.2" height="2.77" fill="#10b2d5"/>
<rect x="855.3" y="339.15" width="41.2" height="2.77" fill="#0eb3d4"/>
<rect x="855.3" y="336.98" width="41.2" height="2.77" fill="#0bb3d2"/>
<rect x="855.3" y="334.82" width="41.2" height="2.77" fill="#08b4d1"/>
<rect x="855.3" y="332.65" width="41.2" height="2.77" fill="#06b5cf"/>
<rect x="855.3" y="330.49" width="41.2" height="2.77" fill="#04b6ce"/>
<rect x="855.3" y="328.32" width="41.2" height="2.77" fill="#02b7cc"/>
<rect x="855.3" y="326.16" width="41.2" height="2.77" fill="#01b7ca"/>
<rect x="855.3" y="323.99" width="41.2" height="2.77" fill="#00b8c9"/>
<rect x="855.3" y="321.82" width="41.2" height="2.77" fill="#00b9c7"/>
<rect x="855.3" y="319.66" width="41.2" height="2.77" fill="#00bac6"/>
<rect x="855.3" y="317.49" width="41.2" height="2.77" fill="#01bac4"/>
<rect x="855.3" y="315.33" width="41.2" height="2.77" fill="#02bbc2"/>
<rect x="855.3" y="313.16" width="41.2" height="2.77" fill="#04bbc1"/>
<rect x="855.3" y="311.00" width="41.2" height="2.77" fill="#06bcbf"/>
<rect x="855.3" y="308.83" width="41.2" height="2.77" fill="#09bdbd"/>
<rect x="855.3" y="306.67" width="41.2" height="2.77" fill="#0dbdbc"/>
<rect x="855.3" y="304.50" width="41.2" height="2.77" fill="#10beba"/>
<rect x="855.3" y="302.33" width="41.2" height="2.77" fill="#14beb8"/>
<rect x="855.3" y="300.17" width="41.2" height="2.77" fill="#17bfb6"/>
<rect x="855.3" y="298.00" width="41.2" height="2.77" fill="#1ac0b5"/>
<rect x="855.3" y="295.84" width="41.2" height="2.77" fill="#1dc0b3"/>
<rect x="855.3" y="293.67" width="41.2" height="2.77" fill="#20c1b1"/>
<rect x="855.3" y="291.51" width="41.2" height="2.77" fill="#23c1af"/>
<rect x="855.3" y="289.34" width="41.2" height="2.77" fill="#25c2ae"/>
<rect x="855.3" y="287.18" width="41.2" height="2.77" fill="#27c2ac"/>
<rect x="855.3" y="285.01" width="41.2" height="2.77" fill="#29c3aa"/>
<rect x="855.3" y="282.84" width="41.2" height="2.77" fill="#2bc3a8"/>
<rect x="855.3" y="280.68" width="41.2" height="2.77" fill="#2cc4a6"/>
<rect x="855.3" y="278.51" width="41.2" height="2.77" fill="#2ec4a5"/>
<rect x="855.3" y="276.35" width="41.2" height="2.77" fill="#2fc5a3"/>
<rect x="855.3" y="274.18" width="41.2" height="2.77" fill="#31c5a1"/>
<rect x="855.3" y="272.02" width="41.2" height="2.77" fill="#32c69f"/>
<rect x="855.3" y="269.85" width="41.2" height="2.77" fill="#33c79d"/>
<rect x="855.3" y="267.68" width="41.2" height="2.77" fill="#35c79b"/>
<rect x="855.3" y="265.52" width="41.2" height="2.77" fill="#36c899"/>
<rect x="855.3" y="263.35" width="41.2" height="2.77" fill="#38c896"/>
<rect x="855.3" y="261.19" width="41.2" height="2.77" fill="#39c994"/>
<rect x="855.3" y="259.02" width="41.2" height="2.77" fill="#3bc992"/>
<rect x="855.3" y="256.86" width="41.2" height="2.77" fill="#3dca90"/>
<rect x="855.3" y="254.69" width="41.2" height="2.77" fill="#40ca8d"/>
<rect x="855.3" y="252.52" width="41.2" height="2.77" fill="#42ca8b"/>
<rect x="855.3" y="250.36" width="41.2" height="2.77" fill="#45cb89"/>
<rect x="855.3" y="248.19" width="41.2" height="2.77" fill="#48cb86"/>
<rect x="855.3" y="246.03" width="41.2" height="2.77" fill="#4bcb84"/>
<rect x="855.3" y="243.86" width="41.2" height="2.77" fill="#4ecc81"/>
<rect x="855.3" y="241.70" width="41.2" height="2.77" fill="#51cc7f"/>
<rect x="855.3" y="239.53" width="41.2" height="2.77" fill="#54cc7c"/>
<rect x="855.3" y="237.37" width="41.2" height="2.77" fill="#57cc7a"/>
<rect x="855.3" y="235.20" width="41.2" height="2.77" fill="#5acc77"/>
<rect x="855.3" y="233.03" width="41.2" height="2.77" fill="#5ecd74"/>
<rect x="855.3" y="230.87" width="41.2" height="2.77" fill="#61cd72"/>
<rect x="855.3" y="228.70" width="41.2" height="2.77" fill="#64cd6f"/>
<rect x="855.3" y="226.54" width="41.2" height="2.77" fill="#67cd6c"/>
<rect x="855.3" y="224.37" width="41.2" height="2.77" fill="#6bcd69"/>
<rect x="855.3" y="222.21" width="41.2" height="2.77" fill="#6ecd66"/>
<rect x="855.3" y="220.04" width="41.2" height="2.77" fill="#72cd64"/>
<rect x="855.3" y="217.88" width="41.2" height="2.77" fill="#76cc61"/>
<rect x="855.3" y="215.71" width="41.2" height="2.77" fill="#79cc5e"/>
<rect x="855.3" y="213.54" width="41.2" height="2.77" fill="#7dcc5b"/>
<rect x="855.3" y="211.38" width="41.2" height="2.77" fill="#81cc59"/>
<rect x="855.3" y="209.21" width="41.2" height="2.77" fill="#84cc56"/>
<rect x="855.3" y="207.05" width="41.2" height="2.77" fill="#88cb53"/>
<rect x="855.3" y="204.88" width="41.2" height="2.77" fill="#8bcb51"/>
<rect x="855.3" y="202.72" width="41.2" height="2.77" fill="#8fcb4e"/>
<rect x="855.3" y="200.55" width="41.2" height="2.77" fill="#93ca4b"/>
<rect x="855.3" y="198.38" width="41.2" height="2.77" fill="#96ca48"/>
<rect x="855.3" y="196.22" width="41.2" height="2.77" fill="#9ac946"/>
<rect x="855.3" y="194.05" width="41.2" height="2.77" fill="#9dc943"/>
<rect x="855.3" y="191.89" width="41.2" height="2.77" fill="#a1c840"/>
<rect x="855.3" y="189.72" width="41.2" height="2.77" fill="#a4c83e"/>
<rect x="855.3" y="187.56" width="41.2" height="2.77" fill="#a7c73b"/>
<rect x="855.3" y="185.39" width="41.2" height="2.77" fill="#abc739"/>
<rect x="855.3" y="183.22" width="41.2" height="2.77" fill="#aec637"/>
<rect x="855.3" y="181.06" width="41.2" height="2.77" fill="#b2c635"/>
<rect x="855.3" y="178.89" width="41.2" height="2.77" fill="#b5c533"/>
<rect x="855.3" y="176.73" width="41.2" height="2.77" fill="#b8c431"/>
<rect x="855.3" y="174.56" width="41.2" height="2.77" fill="#bbc42f"/>
<rect x="855.3" y="172.40" width="41.2" height="2.77" fill="#bec32d"/>
<rect x="855.3" y="170.23" width="41.2" height="2.77" fill="#c2c32c"/>
<rect x="855.3" y="168.07" width="41.2" height="2.77" fill="#c5c22a"/>
<rect x="855.3" y="165.90" width="41.2" height="2.77" fill="#c8c129"/>
<rect x="855.3" y="163.73" width="41.2" height="2.77" fill="#cbc128"/>
<rect x="855.3" y="161.57" width="41.2" height="2.77" fill="#cec027"/>
<rect x="855.3" y="159.40" width="41.2" height="2.77" fill="#d0bf27"/>
<rect x="855.3" y="157.24" width="41.2" height="2.77" fill="#d3bf27"/>
<rect x="855.3" y="155.07" width="41.2" height="2.77" fill="#d6be27"/>
<rect x="855.3" y="152.91" width="41.2" height="2.77" fill="#d9be28"/>
<rect x="855.3" y="150.74" width="41.2" height="2.77" fill="#dbbd28"/>
<rect x="855.3" y="148.57" width="41.2" height="2.77" fill="#debc29"/>
<rect x="855.3" y="146.41" width="41.2" height="2.77" fill="#e1bc2a"/>
<rect x="855.3" y="144.24" width="41.2" height="2.77" fill="#e3bc2b"/>
<rect x="855.3" y="142.08" width="41.2" height="2.77" fill="#e6bb2d"/>
<rect x="855.3" y="139.91" width="41.2" height="2.77" fill="#e8bb2e"/>
<rect x="855.3" y="137.75" width="41.2" height="2.77" fill="#eaba30"/>
<rect x="855.3" y="135.58" width="41.2" height="2.77" fill="#ecba32"/>
<rect x="855.3" y="133.42" width="41.2" height="2.77" fill="#efba35"/>
<rect x="855.3" y="131.25" width="41.2" height="2.77" fill="#f1ba37"/>
<rect x="855.3" y="129.08" width="41.2" height="2.77" fill="#f3ba39"/>
<rect x="855.3" y="126.92" width="41.2" height="2.77" fill="#f5ba3b"/>
<rect x="855.3" y="124.75" width="41.2" height="2.77" fill="#f7ba3d"/>
<rect x="855.3" y="122.59" width="41.2" height="2.77" fill="#f9ba3e"/>
<rect x="855.3" y="120.42" width="41.2" height="2.77" fill="#fbbb3e"/>
<rect x="855.3" y="118.26" width="41.2" height="2.77" fill="#fcbc3e"/>
<rect x="855.3" y="116.09" width="41.2" height="2.77" fill="#febd3d"/>
<rect x="855.3" y="113.92" width="41.2" height="2.77" fill="#febe3c"/>
<rect x="855.3" y="111.76" width="41.2" height="2.77" fill="#fec03b"/>
<rect x="855.3" y="109.59" width="41.2" height="2.77" fill="#fec13a"/>
<rect x="855.3" y="107.43" width="41.2" height="2.77" fill="#fec239"/>
<rect x="855.3" y="105.26" width="41.2" height="2.77" fill="#fec438"/>
<rect x="855.3" y="103.10" width="41.2" height="2.77" fill="#fec537"/>
<rect x="855.3" y="100.93" width="41.2" height="2.77" fill="#fec735"/>
<rect x="855.3" y="98.77" width="41.2" height="2.77" fill="#fec834"/>
<rect x="855.3" y="96.60" width="41.2" height="2.77" fill="#feca33"/>
<rect x="855.3" y="94.43" width="41.2" height="2.77" fill="#fdcb32"/>
<rect x="855.3" y="92.27" width="41.2" height="2.77" fill="#fdcd31"/>
<rect x="855.3" y="90.10" width="41.2" height="2.77" fill="#fdce31"/>
<rect x="855.3" y="87.94" width="41.2" height="2.77" fill="#fcd030"/>
<rect x="855.3" y="85.77" width="41.2" height="2.77" fill="#fbd22f"/>
<rect x="855.3" y="83.61" width="41.2" height="2.77" fill="#fbd32e"/>
<rect x="855.3" y="81.44" width="41.2" height="2.77" fill="#fad52e"/>
<rect x="855.3" y="79.27" width="41.2" height="2.77" fill="#f9d62d"/>
<rect x="855.3" y="77.11" width="41.2" height="2.77" fill="#f9d82c"/>
<rect x="855.3" y="74.94" width="41.2" height="2.77" fill="#f8d92b"/>
<rect x="855.3" y="72.78" width="41.2" height="2.77" fill="#f7db2a"/>
<rect x="855.3" y="70.61" width="41.2" height="2.77" fill="#f7dd2a"/>
<rect x="855.3" y="68.45" width="41.2" height="2.77" fill="#f6de29"/>
<rect x="855.3" y="66.28" width="41.2" height="2.77" fill="#f6e028"/>
<rect x="855.3" y="64.12" width="41.2" height="2.77" fill="#f5e128"/>
<rect x="855.3" y="61.95" width="41.2" height="2.77" fill="#f5e327"/>
<rect x="855.3" y="59.78" width="41.2" height="2.77" fill="#f5e526"/>
<rect x="855.3" y="57.62" width="41.2" height="2.77" fill="#f5e626"/>
<rect x="855.3" y="55.45" width="41.2" height="2.77" fill="#f5e825"/>
<rect x="855.3" y="53.29" width="41.2" height="2.77" fill="#f5e924"/>
<rect x="855.3" y="51.12" width="41.2" height="2.77" fill="#f5eb23"/>
<rect x="855.3" y="48.96" width="41.2" height="2.77" fill="#f5ec22"/>
<rect x="855.3" y="46.79" width="41.2" height="2.77" fill="#f5ee21"/>
<rect x="855.3" y="44.62" width="41.2" height="2.77" fill="#f6ef20"/>
<rect x="855.3" y="42.46" width="41.2" height="2.77" fill="#f6f11f"/>
<rect x="855.3" y="40.29" width="41.2" height="2.77" fill="#f6f21e"/>
<rect x="855.3" y="38.13" width="41.2" height="2.77" fill="#f7f41c"/>
<rect x="855.3" y="35.96" width="41.2" height="2.77" fill="#f7f51b"/>
<rect x="855.3" y="33.80" width="41.2" height="2.77" fill="#f8f71a"/>
<rect x="855.3" y="31.63" width="41.2" height="2.77" fill="#f8f818"/>
<rect x="855.3" y="29.47" width="41.2" height="2.77" fill="#f9f916"/>
<rect x="855.3" y="27.30" width="41.2" height="2.77" fill="#f9fb15"/>
</g>
<rect x="855.3" y="27.3" width="41.2" height="554.4" fill="none" stroke="#1e1e1e" stroke-width="1.2"/>
<g font-size="21.2" fill="#1c1c1c" stroke="#1c1c1c" stroke-width="0.3">
<line x1="890.5" y1="525.2" x2="896.5" y2="525.2" stroke="#1e1e1e" stroke-width="1.2" stroke-opacity="1"/>
<text x="906.6" y="533.3">398</text>
<line x1="890.5" y1="464.6" x2="896.5" y2="464.6" stroke="#1e1e1e" stroke-width="1.2" stroke-opacity="1"/>
<text x="906.6" y="472.7">400</text>
<line x1="890.5" y1="404.1" x2="896.5" y2="404.1" stroke="#1e1e1e" stroke-width="1.2" stroke-opacity="1"/>
<text x="906.6" y="412.2">402</text>
<line x1="890.5" y1="343.5" x2="896.5" y2="343.5" stroke="#1e1e1e" stroke-width="1.2" stroke-opacity="1"/>
<text x="906.6" y="351.6">404</text>
<line x1="890.5" y1="282.9" x2="896.5" y2="282.9" stroke="#1e1e1e" stroke-width="1.2" stroke-opacity="1"/>
<text x="906.6" y="291">406</text>
<line x1="890.5" y1="222.3" x2="896.5" y2="222.3" stroke="#1e1e1e" stroke-width="1.2" stroke-opacity="1"/>
<text x="906.6" y="230.4">408</text>
<line x1="890.5" y1="161.8" x2="896.5" y2="161.8" stroke="#1e1e1e" stroke-width="1.2" stroke-opacity="1"/>
<text x="906.6" y="169.9">410</text>
<line x1="890.5" y1="101.2" x2="896.5" y2="101.2" stroke="#1e1e1e" stroke-width="1.2" stroke-opacity="1"/>
<text x="906.6" y="109.3">412</text>
<line x1="890.5" y1="40.6" x2="896.5" y2="40.6" stroke="#1e1e1e" stroke-width="1.2" stroke-opacity="1"/>
<text x="906.6" y="48.7">414</text>
</g>
</svg>
</body></html>
